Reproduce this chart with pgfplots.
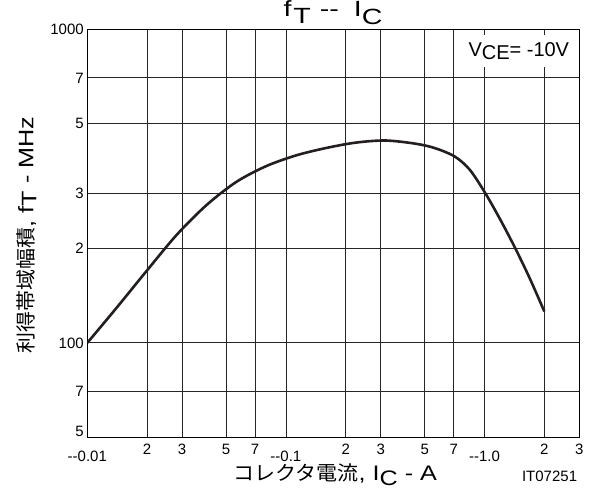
\documentclass[border=0pt]{standalone}
\usepackage{fontspec}
\setmainfont{Liberation Sans}
\newfontfamily\cjk{Noto Sans CJK JP}[FakeStretch=1.05]
\newfontfamily\titlefont{Liberation Sans}[FakeStretch=1.3]
\newfontfamily\widefont{Liberation Sans}[FakeStretch=1.2]
\usepackage{pgfplots}
\pgfplotsset{compat=1.18}
\definecolor{curve}{RGB}{35,31,32}
\begin{document}
\begin{tikzpicture}
\useasboundingbox (-87.3bp,-51.7bp) rectangle (503.7bp,437.3bp);
\begin{axis}[
  at={(0,0)}, anchor=south west,
  scale only axis, width=492bp, height=408bp,
  xmode=log, ymode=log,
  xmin=0.01, xmax=3, ymin=50, ymax=1000,
  xtick={0.01,0.02,0.03,0.05,0.07,0.1,0.2,0.3,0.5,0.7,1,2,3},
  xticklabels={\raisebox{-6.7bp}{-{}-0.01},2,3,5,7,\raisebox{-6.7bp}{-{}-0.1},2,3,5,7,\raisebox{-6.7bp}{-{}-1.0},2,3},
  ytick={50,70,100,200,300,500,700,1000},
  yticklabels={\raisebox{11bp}{5},7,100\hspace{5bp},2,3,5,7,1000\hspace{5bp}},
  minor xtick={}, minor ytick={},
  grid=major,
  major grid style={line width=0.8bp, black!85},
  major tick length=0pt, minor tick length=0pt,
  axis line style={line width=1.3bp},
  tick label style={font=\fontsize{15bp}{18bp}\selectfont},
  xticklabel style={anchor=base, inner sep=1bp, yshift=-17.7bp},
]
\addplot[smooth, line width=2.6bp, color=curve] coordinates {
(0.01,100) (0.01413,130) (0.01995,170) (0.02818,221) (0.03981,275)
(0.05623,326) (0.07943,366) (0.1122,396) (0.1585,418) (0.2239,435)
(0.3162,442) (0.4467,432) (0.5623,418) (0.7079,393) (0.8414,357)
(1.0,303) (1.189,250) (1.413,203) (1.679,162) (2.0,126)
};
\end{axis}
\fill[white] (378.7bp,370.3bp) rectangle (482.7bp,402.3bp);
\node[anchor=base west, inner sep=0pt, font=\fontsize{20bp}{24bp}\selectfont] at (381bp,381bp) {V\raisebox{-3.4bp}{CE}= -10V};
\node[anchor=base west, inner sep=0pt, font=\fontsize{22bp}{26bp}\titlefont] at (196bp,420.6bp) {f\hspace{2bp}\raisebox{-7bp}{T}\hspace{9bp}-{}-\hspace{15bp}I\raisebox{-7.5bp}{C}};
\node[anchor=base west, inner sep=0pt, font=\fontsize{21bp}{25bp}\widefont] at (146bp,-43.6bp) {{\fontsize{20bp}{24bp}\cjk コレクタ電流}, I\raisebox{-4.5bp}{C} - A};
\node[anchor=base west, inner sep=0pt, rotate=90, font=\fontsize{21bp}{25bp}\widefont] at (-54bp,84bp) {{\fontsize{20bp}{24bp}\cjk 利得帯域幅積}, f\raisebox{-3bp}{T} - MHz};
\node[anchor=base east, inner sep=0pt, font=\fontsize{15bp}{18bp}\selectfont] at (490bp,-44.4bp) {IT07251};
\end{tikzpicture}
\end{document}
